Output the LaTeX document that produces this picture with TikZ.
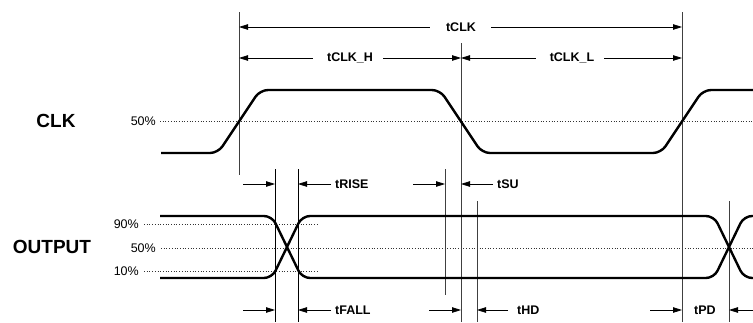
\documentclass[tikz,border=0pt]{standalone}
\usepackage{fontspec}
\setmainfont{Liberation Sans}
\usetikzlibrary{arrows.meta}
\begin{document}
\begin{tikzpicture}[x=1pt,y=-1pt,
  wave/.style={line width=2.4pt,rounded corners=8pt,line join=round},
  vline/.style={line width=0.8pt,draw=black!75},
  vlineb/.style={line width=0.8pt,draw=black},
  level/.style={dotted,line width=0.7pt,draw=black!80},
  dim/.style={line width=0.8pt,-{Triangle[length=9pt,width=5.5pt]}},
  tlabel/.style={font=\fontsize{12.5}{14}\selectfont\bfseries,inner sep=0pt},
  pct/.style={font=\fontsize{12.5}{14}\selectfont,anchor=east,inner sep=0pt},
  sig/.style={font=\fontsize{19}{22}\selectfont\bfseries,inner sep=0pt}]
\useasboundingbox (0,0) rectangle (753,322);
\begin{scope}
\clip (0,0) rectangle (753,322);
% signal names
\node[sig] (clk) at (56,121) {CLK};
\node[sig] (out) at (52,247) {OUTPUT};
% percent labels and levels
\node[pct] (p50c) at (156,121) {50\%};
\node[pct] (p90) at (139,224) {90\%};
\node[pct] (p50o) at (156,248) {50\%};
\node[pct] (p10) at (139,271) {10\%};
\coordinate (e50c) at (753,121);
\coordinate (e90) at (318,224);
\coordinate (e50o) at (753,248);
\coordinate (e10) at (318,271);
\draw[level] ([xshift=4pt]p50c.east) -- (e50c);
\draw[level] ([xshift=5pt]p90.east) -- (e90);
\draw[level] ([xshift=5pt]p50o.east) -- (e50o);
\draw[level] ([xshift=5pt]p10.east) -- (e10);
% vertical reference lines
\coordinate (vAt) at (239,12);  \coordinate (vAb) at (239,175);
\coordinate (vBt) at (461,43);  \coordinate (vBb) at (461,322);
\coordinate (vCt) at (682,12);  \coordinate (vCb) at (682,322);
\coordinate (vDt) at (275,169); \coordinate (vDb) at (275,322);
\coordinate (vEt) at (298,169); \coordinate (vEb) at (298,322);
\coordinate (vFt) at (445,169); \coordinate (vFb) at (445,295);
\coordinate (vGt) at (477,201); \coordinate (vGb) at (477,322);
\coordinate (vHt) at (729,201); \coordinate (vHb) at (729,322);
\draw[vline] (vAt) -- (vAb);
\draw[vline] (vBt) -- (vBb);
\draw[vline] (vCt) -- (vCb);
\draw[vlineb] (vDt) -- (vDb);
\draw[vlineb] (vEt) -- (vEb);
\draw[vline] (vFt) -- (vFb);
\draw[vline] (vGt) -- (vGb);
\draw[vline] (vHt) -- (vHb);
% waveforms
\draw[wave] (161,153) -- (218,153) -- (260,90) -- (440,90) -- (482,153) -- (661,153) -- (703,90) -- (770,90);
\draw[wave] (160,216) -- (272,216) -- (302,278) -- (714,278) -- (744,216) -- (770,216);
\draw[wave] (160,278) -- (272,278) -- (302,216) -- (714,216) -- (744,278) -- (770,278);
% tCLK
\coordinate (k1) at (239,27); \coordinate (k2) at (682,27);
\node[tlabel] (tclk) at (461,27) {tCLK};
\draw[dim] ([xshift=-16pt]tclk.west) -- (k1);
\draw[dim] ([xshift=15pt]tclk.east) -- (k2);
% tCLK_H, tCLK_L
\coordinate (h1) at (239,58); \coordinate (h2) at (461,58); \coordinate (h3) at (682,58);
\node[tlabel] (tclkh) at (350,58) {tCLK\_H};
\node[tlabel] (tclkl) at (572,58) {tCLK\_L};
\draw[dim] ([xshift=-14pt]tclkh.west) -- (h1);
\draw[dim] ([xshift=10pt]tclkh.east) -- (h2);
\draw[dim] ([xshift=-14pt]tclkl.west) -- (h2);
\draw[dim] ([xshift=10pt]tclkl.east) -- (h3);
% tRISE
\coordinate (r0) at (243,184); \coordinate (r1) at (275,184); \coordinate (r2) at (298,184);
\node[tlabel,anchor=west] (trise) at (335,184) {tRISE};
\draw[dim] (r0) -- (r1);
\draw[dim] ([xshift=-4pt]trise.west) -- (r2);
% tSU
\coordinate (s0) at (413,184); \coordinate (s1) at (445,184); \coordinate (s2) at (461,184);
\node[tlabel,anchor=west] (tsu) at (497,184) {tSU};
\draw[dim] (s0) -- (s1);
\draw[dim] ([xshift=-4pt]tsu.west) -- (s2);
% tFALL
\coordinate (f0) at (243,310); \coordinate (f1) at (275,310); \coordinate (f2) at (298,310);
\node[tlabel,anchor=west] (tfall) at (335,310) {tFALL};
\draw[dim] (f0) -- (f1);
\draw[dim] ([xshift=-4pt]tfall.west) -- (f2);
% tHD
\coordinate (d0) at (429,310); \coordinate (d1) at (461,310); \coordinate (d2) at (477,310);
\coordinate (d3) at (508,310);
\node[tlabel,anchor=west] (thd) at (517,310) {tHD};
\draw[dim] (d0) -- (d1);
\draw[dim] (d3) -- (d2);
% tPD
\coordinate (q0) at (650,310); \coordinate (q1) at (682,310); \coordinate (q2) at (729,310);
\coordinate (q3) at (765,310);
\node[tlabel] (tpd) at (705,310) {tPD};
\draw[dim] (q0) -- (q1);
\draw[dim] (q3) -- (q2);
\end{scope}
\end{tikzpicture}
\end{document}
